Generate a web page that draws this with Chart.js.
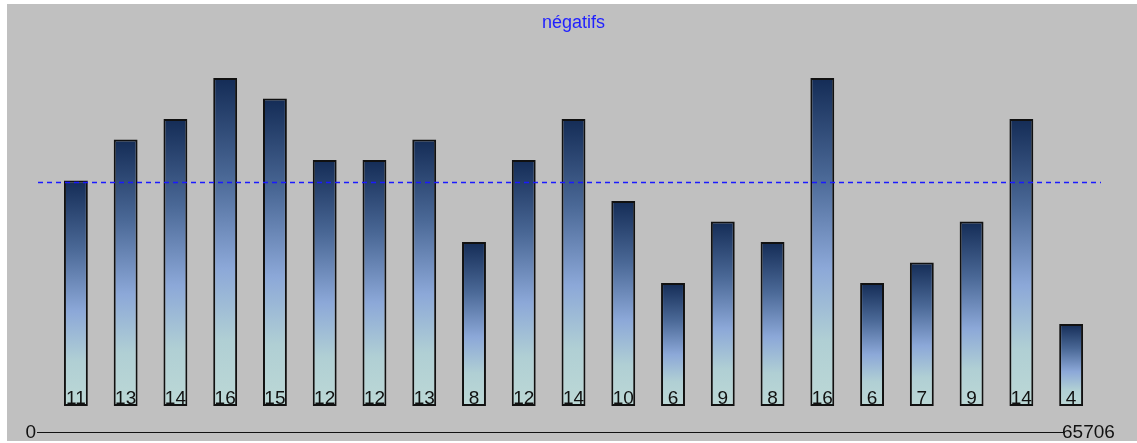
<!DOCTYPE html>
<html lang="fr">
<head>
  <meta charset="UTF-8">
  <title>négatifs</title>
  <script src="https://cdn.jsdelivr.net/npm/chart.js"></script>
  <style>
    body { margin: 0; background: #ffffff; }
    #box { position: absolute; left: 7px; top: 4px; width: 1130px; height: 437px; background: #c0c0c0; }
  </style>
</head>
<body>
<div id="box"><canvas id="myChart"></canvas></div>

<script>
  // chart data
  const titleText = 'négatifs';
  const categories = ['1', '2', '3', '4', '5', '6', '7', '8', '9', '10', '11',
                      '12', '13', '14', '15', '16', '17', '18', '19', '20', '21'];
  const values = [11, 13, 14, 16, 15, 12, 12, 13, 8, 12, 14, 10, 6, 9, 8, 16, 6, 7, 9, 14, 4];
  const averageValue = 10.9;
  const bottomTicks = ['0', '65706'];

  // gradient per bar, dark at the top and pale at the bottom
  function barGradient(context) {
    const chart = context.chart;
    if (!chart.chartArea) return '#3c5a88';
    const y = chart.scales.y;
    const top = y.getPixelForValue(context.raw);
    const base = y.getPixelForValue(0);
    const g = chart.ctx.createLinearGradient(0, top, 0, base);
    g.addColorStop(0, '#142c56');
    g.addColorStop(0.3, '#4a6896');
    g.addColorStop(0.58, '#8ca8d8');
    g.addColorStop(0.8, '#b0cfd4');
    g.addColorStop(1, '#bcd8d6');
    return g;
  }

  // dashed average line
  const averageLine = {
    id: 'averageLine',
    afterDatasetsDraw(chart) {
      const ctx = chart.ctx;
      const yPix = chart.scales.y.getPixelForValue(averageValue);
      ctx.save();
      ctx.strokeStyle = '#1a1aff';
      ctx.lineWidth = 1.5;
      ctx.setLineDash([5, 4]);
      ctx.beginPath();
      ctx.moveTo(31, yPix);
      ctx.lineTo(1094, yPix);
      ctx.stroke();
      ctx.restore();
    }
  };

  // value text at the foot of each bar
  const barLabels = {
    id: 'barLabels',
    afterDatasetsDraw(chart) {
      const ctx = chart.ctx;
      const meta = chart.getDatasetMeta(0);
      ctx.save();
      ctx.fillStyle = '#111111';
      ctx.font = '19px "Liberation Sans", Arial, sans-serif';
      ctx.textAlign = 'center';
      ctx.textBaseline = 'alphabetic';
      meta.data.forEach((bar, i) => {
        ctx.fillText(String(values[i]), bar.x, bar.base - 2);
      });
      ctx.restore();
    }
  };

  // bottom line with its two end labels
  const bottomAxis = {
    id: 'bottomAxis',
    afterDraw(chart) {
      const ctx = chart.ctx;
      const yLine = 428;
      ctx.save();
      ctx.strokeStyle = '#111111';
      ctx.lineWidth = 1;
      ctx.beginPath();
      ctx.moveTo(30, yLine + 0.5);
      ctx.lineTo(1058, yLine + 0.5);
      ctx.stroke();
      ctx.fillStyle = '#111111';
      ctx.font = '19px "Liberation Sans", Arial, sans-serif';
      ctx.textBaseline = 'middle';
      ctx.textAlign = 'right';
      ctx.fillText(bottomTicks[0], 29, yLine + 1);
      ctx.textAlign = 'left';
      ctx.fillText(bottomTicks[1], 1055, yLine + 1);
      ctx.restore();
    }
  };

  const ctx = document.getElementById('myChart').getContext('2d');
  const myChart = new Chart(ctx, {
    type: 'bar',
    data: {
      labels: categories,
      datasets: [{
        data: values,
        backgroundColor: barGradient,
        borderColor: '#111111',
        borderWidth: 2,
        borderSkipped: false,
        barPercentage: 0.48,
        categoryPercentage: 1.0,
      }],
    },
    options: {
      responsive: true,
      maintainAspectRatio: false,
      animation: false,
      layout: { padding: { left: 44, right: 41, top: 0, bottom: 35 } },
      plugins: {
        legend: { display: false },
        tooltip: { enabled: false },
        title: {
          display: true,
          text: titleText,
          color: '#1f1fff',
          font: { size: 18, family: '"Liberation Sans", Arial, sans-serif', weight: 'normal' },
          padding: { top: 8, bottom: 44.4 },
        },
      },
      scales: {
        x: { display: false },
        y: { display: false, min: 0, max: 16 },
      },
    },
    plugins: [averageLine, barLabels, bottomAxis],
  });
</script>
</body>
</html>
